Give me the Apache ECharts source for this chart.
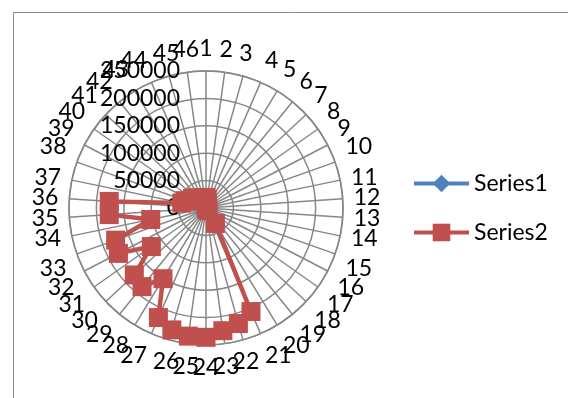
<!DOCTYPE html>
<html>
<head>
<meta charset="utf-8">
<script src="https://cdn.jsdelivr.net/npm/echarts@6/dist/echarts.min.js"></script>
<style>
  html, body { margin: 0; padding: 0; background: #ffffff; }
  #chart { width: 568px; height: 398px; }
</style>
</head>
<body>
<div id="chart"></div>
<script>
// Category names around the wheel
const categories = ['1','2','3','4','5','6','7','8','9','10','11','12','13','14','15','16',
  '17','18','19','20','21','22','23','24','25','26','27','28','29','30','31','32','33',
  '34','35','36','37','38','39','40','41','42','43','44','45','46'];

// Series values, one per category
const series1 = [0,0,0,0,0,0,0,0,0,0,0,0,0,0,0,0,0,0,0,0,0,0,0,0,0,0,0,0,0,0,0,0,0,0,0,0,0,0,0,0,0,0,0,0,0,0];
const series2 = [19000,16000,9000,4000,3000,2000,2000,2000,2000,2000,2000,2000,2000,2000,3000,3000,
  3000,4000,6000,33000,206000,219000,226000,236000,236000,231000,218000,151000,185000,179000,
  122000,180000,175000,103000,177000,177000,45000,40000,30000,30000,26000,24000,20000,19000,18000,19000];

// Value scale of the radial axis
const radiusMax = 250000;
const radiusStep = 50000;

const FONT = 'Lato';
const GRID = '#878787';
const CENTER = [206, 208];
const RADIUS = 137;
// Half a category step, so band centres of the data wheel sit on the spokes of the grid wheel
const halfStep = 180 / categories.length;

const chart = echarts.init(document.getElementById('chart'), null, { renderer: 'canvas' });
chart.setOption({
  animation: false,
  textStyle: { fontFamily: FONT },
  graphic: [{
    type: 'rect', left: 11, top: 10, silent: true, z: -10,
    shape: { width: 620, height: 420 },
    style: { fill: 'none', stroke: '#8a8a8a', lineWidth: 1 }
  }],
  polar: [
    { center: CENTER, radius: RADIUS },   // data wheel + category labels
    { center: CENTER, radius: RADIUS }    // spokes, rings and value labels
  ],
  angleAxis: [
    {
      polarIndex: 0,
      type: 'category',
      data: categories,
      startAngle: 90 + halfStep,
      clockwise: true,
      boundaryGap: true,
      axisLine: { show: true, lineStyle: { color: GRID, width: 1.5 } },
      axisTick: { show: false },
      splitLine: { show: false },
      axisLabel: { interval: 0, margin: 11, color: '#000', fontSize: 23, fontFamily: FONT }
    },
    {
      polarIndex: 1,
      type: 'category',
      data: categories,
      startAngle: 90,
      clockwise: true,
      boundaryGap: true,
      axisLine: { show: false },
      axisTick: { show: false, interval: 0 },
      splitLine: { show: true, interval: 0, lineStyle: { color: GRID, width: 1.5 } },
      axisLabel: { show: false, interval: 0 }
    }
  ],
  radiusAxis: [
    {
      polarIndex: 0,
      type: 'value',
      min: 0,
      max: radiusMax,
      interval: radiusStep,
      axisLine: { show: false },
      axisTick: { show: false },
      splitLine: { show: false },
      axisLabel: { show: false }
    },
    {
      polarIndex: 1,
      type: 'value',
      min: 0,
      max: radiusMax,
      interval: radiusStep,
      axisLine: { show: false },
      axisTick: { show: false },
      splitLine: { show: true, lineStyle: { color: GRID, width: 1.5 } },
      axisLabel: {
        margin: 26, color: '#000', fontSize: 23, fontFamily: FONT,
        formatter: function (v) { return String(v); }
      }
    }
  ],
  legend: {
    orient: 'vertical',
    left: 412,
    top: 172,
    padding: 0,
    itemWidth: 55,
    itemHeight: 22,
    itemGap: 26,
    lineStyle: { width: 4 },
    textStyle: { fontSize: 23, color: '#000', fontFamily: FONT },
    data: ['Series1', 'Series2']
  },
  series: [
    {
      name: 'Series1', type: 'line', coordinateSystem: 'polar', polarIndex: 0, data: series1,
      symbol: 'diamond', symbolSize: 14,
      lineStyle: { width: 4, color: '#4F81BD' },
      itemStyle: { color: '#4F81BD' }
    },
    {
      name: 'Series2', type: 'line', coordinateSystem: 'polar', polarIndex: 0, data: series2,
      symbol: 'rect', symbolSize: 19,
      lineStyle: { width: 4.5, color: '#C0504D' },
      itemStyle: { color: '#C0504D' }
    }
  ]
});
</script>
</body>
</html>
